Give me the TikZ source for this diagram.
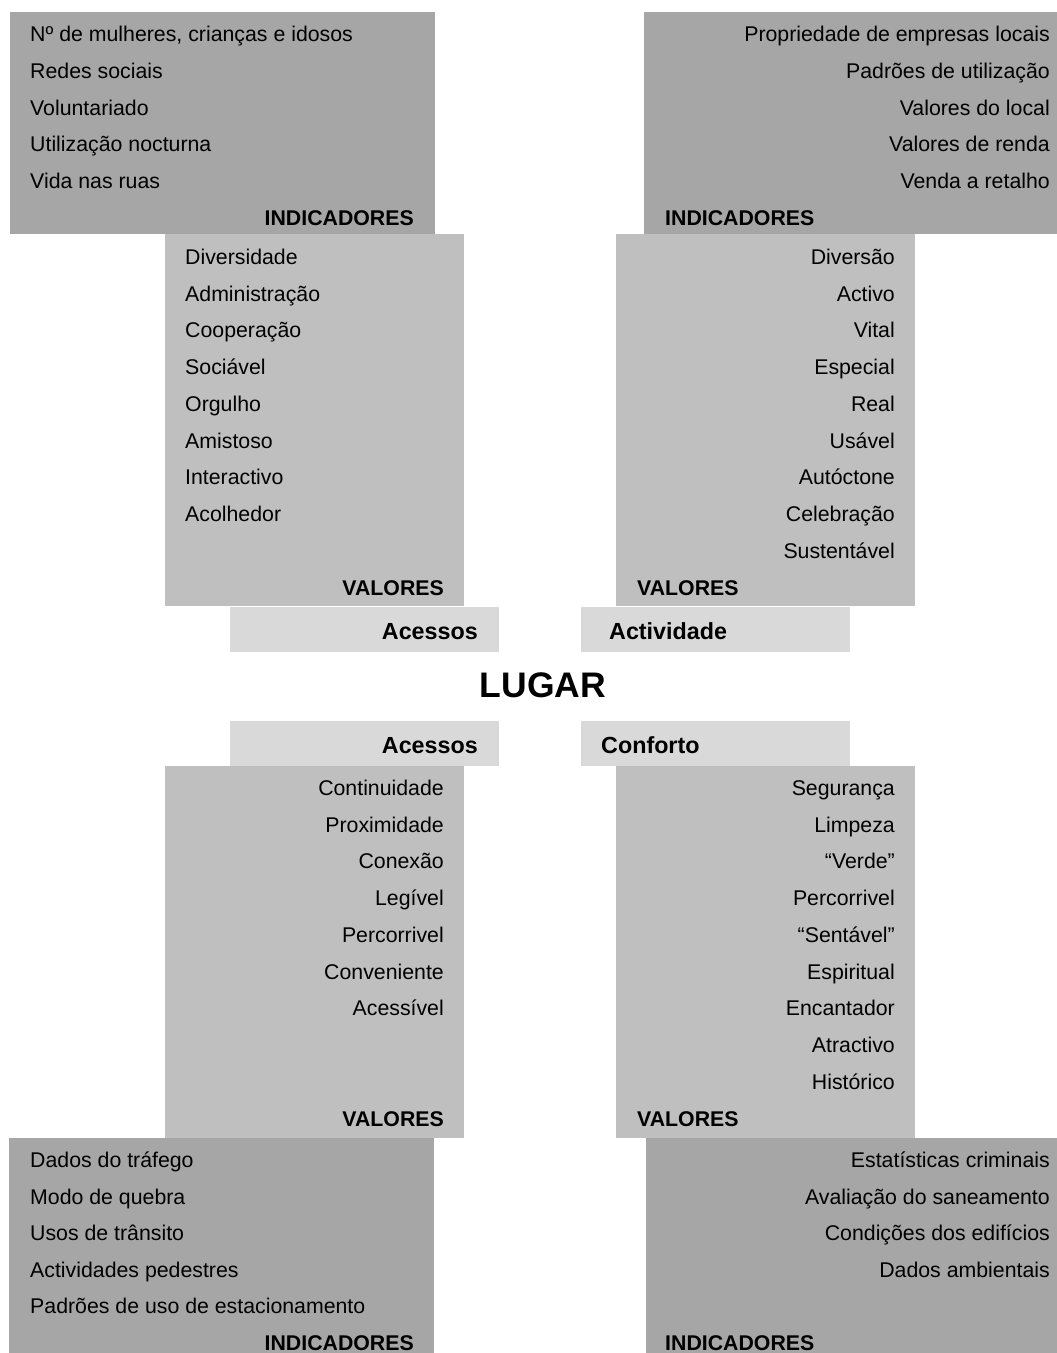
\documentclass[tikz,border=0pt]{standalone}
\usepackage{fontspec}
\setmainfont{Liberation Sans}
\usepackage{tikz}
\usetikzlibrary{positioning}
\definecolor{pgdark}{RGB}{166,166,166}
\definecolor{pgmid}{RGB}{191,191,191}
\definecolor{pglight}{RGB}{217,217,217}
\tikzstyle{indbox} = [rectangle, fill=pgdark, inner sep=0pt, anchor=north west]
\tikzstyle{valbox} = [rectangle, fill=pgmid, inner sep=0pt, anchor=north west, minimum width=299pt, minimum height=372pt]
\tikzstyle{tagbox} = [rectangle, fill=pglight, inner sep=0pt, anchor=north west, minimum width=269pt, minimum height=45pt]
\tikzstyle{item} = [inner sep=0pt, font=\fontsize{21.3}{24}\selectfont]
\tikzstyle{head} = [inner sep=0pt, font=\fontsize{21.3}{24}\selectfont\bfseries]
\tikzstyle{tag} = [inner sep=0pt, font=\fontsize{23.3}{26}\selectfont\bfseries]

\begin{document}
\begin{tikzpicture}[x=1pt, y=-1pt]
\useasboundingbox (0,0) rectangle (1057,1353);

% Boxes
\node[indbox, minimum width=425pt, minimum height=222pt] (indTL) at (10,12) {};
\node[indbox, minimum width=413pt, minimum height=222pt] (indTR) at (644,12) {};
\node[valbox] (valTL) at (165,234) {};
\node[valbox] (valTR) at (616,234) {};
\node[tagbox] (tagTL) at (230,607) {};
\node[tagbox] (tagTR) at (581,607) {};
\node[tagbox] (tagBL) at (230,721) {};
\node[tagbox] (tagBR) at (581,721) {};
\node[valbox] (valBL) at (165,766) {};
\node[valbox] (valBR) at (616,766) {};
\node[indbox, minimum width=425pt, minimum height=215pt] (indBL) at (9,1138) {};
\node[indbox, minimum width=411pt, minimum height=215pt] (indBR) at (646,1138) {};

% Indicators, top
\foreach \t [count=\i from 0] in {{Nº de mulheres, crianças e idosos}, Redes sociais, Voluntariado, Utilização nocturna, Vida nas ruas}
  \node[item, anchor=base west] (iTL\i) at (30,{41.5+36.75*\i}) {\t};
\foreach \t [count=\i from 0] in {Propriedade de empresas locais, Padrões de utilização, Valores do local, Valores de renda, Venda a retalho}
  \node[item, anchor=base east] (iTR\i) at (1050,{41.5+36.75*\i}) {\t};
\node[head, anchor=base east] (hTL) at (414,225) {INDICADORES};
\node[head, anchor=base west] (hTR) at (665,225) {INDICADORES};

% Values, top
\foreach \t [count=\i from 0] in {Diversidade, Administração, Cooperação, Sociável, Orgulho, Amistoso, Interactivo, Acolhedor}
  \node[item, anchor=base west] (vTL\i) at (185,{264.5+36.72*\i}) {\t};
\foreach \t [count=\i from 0] in {Diversão, Activo, Vital, Especial, Real, Usável, Autóctone, Celebração, Sustentável}
  \node[item, anchor=base east] (vTR\i) at (895,{264.5+36.72*\i}) {\t};
\node[head, anchor=base east] (gTL) at (444,595) {VALORES};
\node[head, anchor=base west] (gTR) at (637,595) {VALORES};

% Labels and centre
\node[tag, anchor=base east] (lTL) at (478,639) {Acessos};
\node[tag, anchor=base west] (lTR) at (609,639) {Actividade};
\node[inner sep=0pt, anchor=base, font=\fontsize{35.5}{40}\selectfont\bfseries] (lugar) at (543,697) {LUGAR};
\node[tag, anchor=base east] (lBL) at (478,753) {Acessos};
\node[tag, anchor=base west] (lBR) at (601,753) {Conforto};

% Values, bottom
\foreach \t [count=\i from 0] in {Continuidade, Proximidade, Conexão, Legível, Percorrivel, Conveniente, Acessível}
  \node[item, anchor=base east] (vBL\i) at (444,{795.5+36.72*\i}) {\t};
\foreach \t [count=\i from 0] in {Segurança, Limpeza, “Verde”, Percorrivel, “Sentável”, Espiritual, Encantador, Atractivo, Histórico}
  \node[item, anchor=base east] (vBR\i) at (895,{795.5+36.72*\i}) {\t};
\node[head, anchor=base east] (gBL) at (444,1126) {VALORES};
\node[head, anchor=base west] (gBR) at (637,1126) {VALORES};

% Indicators, bottom
\foreach \t [count=\i from 0] in {Dados do tráfego, Modo de quebra, Usos de trânsito, Actividades pedestres, Padrões de uso de estacionamento}
  \node[item, anchor=base west] (iBL\i) at (30,{1167.5+36.5*\i}) {\t};
\foreach \t [count=\i from 0] in {Estatísticas criminais, Avaliação do saneamento, Condições dos edifícios, Dados ambientais}
  \node[item, anchor=base east] (iBR\i) at (1050,{1167.5+36.5*\i}) {\t};
\node[head, anchor=base east] (hBL) at (414,1350) {INDICADORES};
\node[head, anchor=base west] (hBR) at (665,1350) {INDICADORES};
\end{tikzpicture}
\end{document}
